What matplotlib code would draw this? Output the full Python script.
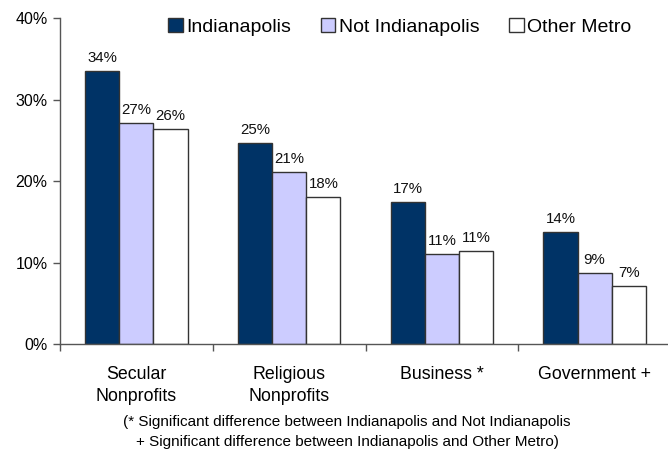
import matplotlib
matplotlib.use("Agg")
import matplotlib.pyplot as plt
from matplotlib.patches import Patch
import numpy as np

plt.rcParams['font.family'] = ['Liberation Sans', 'DejaVu Sans']

categories = ["Secular\nNonprofits", "Religious\nNonprofits", "Business *", "Government +"]
series_names = ["Indianapolis", "Not Indianapolis", "Other Metro"]
indianapolis = [33.6, 24.65, 17.4, 13.8]
not_indianapolis = [27.15, 21.1, 11.1, 8.7]
other_metro = [26.4, 18.1, 11.4, 7.1]
y_ticks = [0, 10, 20, 30, 40]
footnote_lines = [
    "(* Significant difference between Indianapolis and Not Indianapolis",
    "+ Significant difference between Indianapolis and Other Metro)",
]

colors = ["#003366", "#CCCCFF", "#FFFFFF"]
edge = "#333333"
spine_color = "#555555"

W, H = 668, 449
fig = plt.figure(figsize=(W / 100, H / 100), dpi=100)
ax = fig.add_axes([60 / W, 1 - 344 / H, 611 / W, (344 - 18.5) / H])

x = np.arange(len(categories))
bw = 0.224
offsets = [-bw, 0, bw]
for vals, off, col in zip([indianapolis, not_indianapolis, other_metro], offsets, colors):
    bars = ax.bar(x + off, vals, bw, color=col, edgecolor=edge, linewidth=1.0)
    for b, v in zip(bars, vals):
        ax.annotate(f"{v:.0f}%", (b.get_x() + b.get_width() / 2, v),
                    xytext=(0, 6.5), textcoords="offset points",
                    ha="center", va="baseline", fontsize=10.8, color="#111111")

ax.set_xlim(-0.5, len(categories) - 0.5)
ax.set_ylim(0, 40)
ax.set_yticks(y_ticks)
ax.set_yticklabels([f"{t}%" for t in y_ticks], fontsize=11.5)

ax.set_xticks(x)
ax.set_xticklabels(categories, fontsize=12.8, linespacing=1.4)
ax.tick_params(axis="x", which="major", length=0, pad=16)
ax.set_xticks(np.arange(-0.5, len(categories), 1.0), minor=True)
ax.tick_params(axis="x", which="minor", length=5, direction="out", color=spine_color, width=1)
ax.tick_params(axis="y", length=5, direction="out", color=spine_color, width=1, pad=4)

for s in ["top", "right"]:
    ax.spines[s].set_visible(False)
for s in ["left", "bottom"]:
    ax.spines[s].set_color(spine_color)
    ax.spines[s].set_linewidth(1)

handles = [Patch(facecolor=c, edgecolor=edge, linewidth=1.0) for c in colors]
fig.legend(handles, series_names, loc="center", bbox_to_anchor=(400 / W, 1 - 27 / H),
           ncol=3, frameon=False, fontsize=14, handlelength=0.75, handleheight=0.75,
           handletextpad=0.2, columnspacing=1.5)

fig.text(347 / W, 1 - 421.7 / H, footnote_lines[0], ha="center", va="center", fontsize=11)
fig.text(347 / W, 1 - 441.7 / H, footnote_lines[1], ha="center", va="center", fontsize=11)

fig.savefig("out.png", dpi=100)
